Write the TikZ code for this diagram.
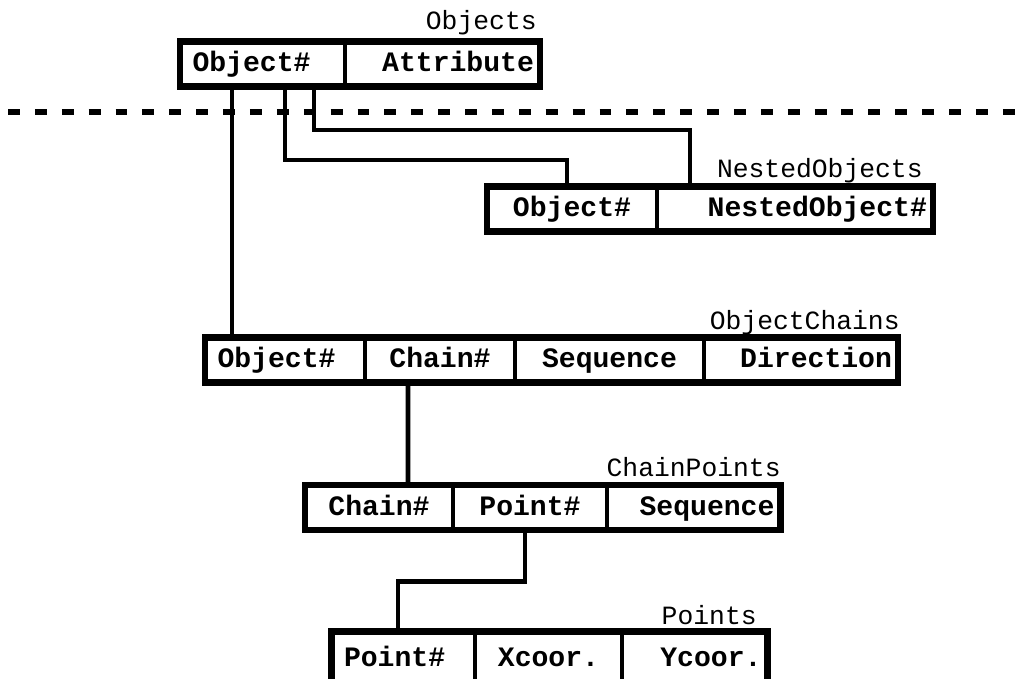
\documentclass[tikz,border=0pt]{standalone}
\usepackage{fontspec}
\setmonofont{Liberation Mono}
\newcommand{\tabfieldfont}{\ttfamily\bfseries\fontsize{16}{18}\selectfont}
\newcommand{\tabtitlefont}{\ttfamily\fontsize{15}{17}\selectfont}

\tikzset{
	field/.style={draw, line width=2.3pt, anchor=west, outer sep=0pt, inner ysep=0pt, minimum height=0.9cm, text height=0.9em, text depth=0em, font=\tabfieldfont},
	lfield/.style={field, align=left, inner xsep=0.25cm},
	rfield/.style={field, align=right, inner xsep=0.12cm},
	cfield/.style={field, inner xsep=0pt},
	tabtitle/.style={anchor=base east, inner sep=0pt, font=\tabtitlefont},
	tabborder/.style={draw, line width=3.7pt},
	link/.style={line width=2.8pt},
	cutline/.style={line width=3.2pt, dash pattern=on 6.8pt off 8.5pt}
}

\begin{document}
\begin{tikzpicture}
	\useasboundingbox (0,0) rectangle (20.38,13.58);
	
	%Objects
	\node[lfield, text width=2.8cm] (ob1) at (3.6,12.3){Object\#};
	\node[rfield, text width=3.66cm] (ob2) at (6.9,12.3){Attribute};
	\node[tabtitle] (obt) at (10.74,12.98){Objects};
	\draw[tabborder] (ob1.north west) rectangle (ob2.south east);
	
	%dashed separator
	\draw[cutline] (0.16,11.34) -- (20.38,11.34);
	
	%NestedObjects
	\node[cfield, minimum width=3.4cm] (no1) at (9.74,9.4){Object\#};
	\node[rfield, text width=5.28cm] (no2) at (13.14,9.4){NestedObject\#};
	\node[tabtitle] (not) at (18.46,10.02){NestedObjects};
	\draw[tabborder] (no1.north west) rectangle (no2.south east);
	
	%ObjectChains
	\node[lfield, text width=2.7cm] (oc1) at (4.1,6.38){Object\#};
	\node[cfield, minimum width=3.0cm] (oc2) at (7.3,6.38){Chain\#};
	\node[cfield, minimum width=3.78cm] (oc3) at (10.3,6.38){Sequence};
	\node[rfield, text width=3.64cm] (oc4) at (14.08,6.38){Direction};
	\node[tabtitle] (oct) at (18.0,6.98){ObjectChains};
	\draw[tabborder] (oc1.north west) rectangle (oc4.south east);
	
	%ChainPoints
	\node[cfield, minimum width=2.96cm] (cp1) at (6.1,3.43){Chain\#};
	\node[cfield, minimum width=3.08cm] (cp2) at (9.06,3.43){Point\#};
	\node[rfield, text width=3.23cm] (cp3) at (12.14,3.43){Sequence};
	\node[tabtitle] (cpt) at (15.62,4.04){ChainPoints};
	\draw[tabborder] (cp1.north west) rectangle (cp3.south east);
	
	%Points
	\node[lfield, text width=2.37cm, minimum height=1.1cm] (pt1) at (6.63,0.4){Point\#};
	\node[cfield, minimum width=2.94cm, minimum height=1.1cm] (pt2) at (9.5,0.4){Xcoor.};
	\node[rfield, text width=2.67cm, minimum height=1.1cm] (pt3) at (12.44,0.4){Ycoor.};
	\node[tabtitle] (ptt) at (15.14,1.08){Points};
	\draw[tabborder] (pt1.north west) rectangle (pt3.south east);
	
	%links
	\draw[link] ([xshift=1.04cm]ob1.south west) -- ([xshift=0.54cm]oc1.north west);
	\draw[link] ([xshift=2.1cm]ob1.south west) |- ([xshift=1.6cm,yshift=0.53cm]no1.north west) -- ([xshift=1.6cm]no1.north west);
	\draw[link] ([xshift=2.68cm]ob1.south west) |- ([xshift=0.66cm,yshift=1.13cm]no2.north west) -- ([xshift=0.66cm]no2.north west);
	\draw[link] ([xshift=0.86cm]oc2.south west) -- ([xshift=2.06cm]cp1.north west);
	\draw[link] ([xshift=1.44cm]cp2.south west) |- ([xshift=1.33cm,yshift=1cm]pt1.north west) -- ([xshift=1.33cm]pt1.north west);
	
\end{tikzpicture}
\end{document}
